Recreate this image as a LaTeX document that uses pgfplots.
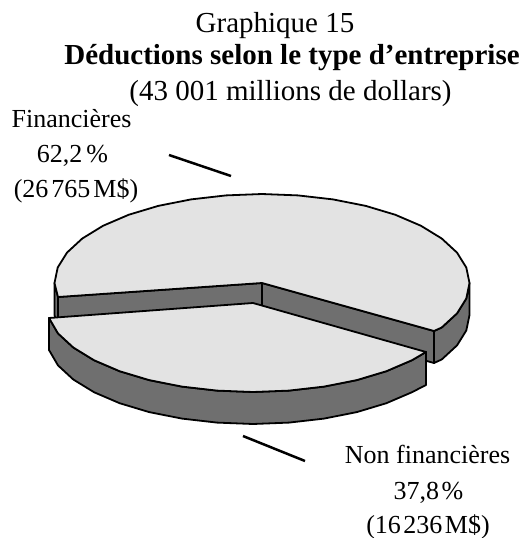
\documentclass[border=0pt]{standalone}
\usepackage{pgfplots}
\pgfplotsset{compat=1.18}
\usepackage{fontspec}
\setmainfont{Liberation Serif}
\definecolor{pietop}{HTML}{E3E3E3}
\definecolor{pieside}{HTML}{6F6F6F}
\tikzset{
    ttl/.style={anchor=base, font=\fontsize{29}{32}\selectfont, inner sep=0pt},
    txt/.style={anchor=base, font=\fontsize{26}{30}\selectfont, inner sep=0pt},
}
\begin{document}
\begin{tikzpicture}
\useasboundingbox (0,0) rectangle (524pt,538pt);
\begin{axis}[
    scale only axis,
    width=524pt,
    height=538pt,
    xmin=0, xmax=524,
    ymin=0, ymax=538,
    y dir=reverse,
    hide axis,
    clip=false,
    every axis plot/.append style={draw=black, line width=1.8pt, line join=round, mark=none},
]
% Financieres 62,2 %: side wall, right then left of the rim
\addplot[fill=pieside] coordinates {(469.5,283) (466.3,298.5) (457,313.4) (441.7,327.5) (434,331) (434,363) (441.7,359.5) (457,345.4) (466.3,330.5) (469.5,315)} --cycle;
\addplot[fill=pieside] coordinates {(54.5,283) (58,297) (58,329) (54.5,315)} --cycle;
% cut faces
\addplot[fill=pieside] coordinates {(58,297) (262,283) (262,315) (58,329)} --cycle;
\addplot[fill=pieside] coordinates {(262,283) (434,331) (434,363) (262,315)} --cycle;
% top face
\addplot[fill=pietop] coordinates {(262,283) (434,331) (441.7,327.5) (457,313.4) (466.3,298.5) (469.5,283) (466.3,267.5) (457,252.6) (441.7,238.5) (421,225.8) (395.4,214.8) (365.8,205.9) (333,199.4) (298,195.4) (262,194) (226,195.4) (191,199.4) (158.2,205.9) (128.6,214.8) (103,225.8) (82.3,238.5) (67,252.6) (57.7,267.5) (54.5,283) (58,297)} --cycle;
% Non financieres 37,8 %: side wall
\addplot[fill=pieside] coordinates {(426,352) (412,360.2) (386.4,371.2) (356.8,380.1) (324,386.6) (289,390.6) (253,392) (217,390.6) (182,386.6) (149.2,380.1) (119.6,371.2) (94,360.2) (73.3,347.5) (58,333.4) (49,318) (49,350) (58,365.4) (73.3,379.5) (94,392.2) (119.6,403.2) (149.2,412.1) (182,418.6) (217,422.6) (253,424) (289,422.6) (324,418.6) (356.8,412.1) (386.4,403.2) (412,392.2) (426,385)} --cycle;
% top face
\addplot[fill=pietop] coordinates {(253,303) (426,352) (412,360.2) (386.4,371.2) (356.8,380.1) (324,386.6) (289,390.6) (253,392) (217,390.6) (182,386.6) (149.2,380.1) (119.6,371.2) (94,360.2) (73.3,347.5) (58,333.4) (49,318)} --cycle;
% leader lines
\addplot[line width=2.5pt] coordinates {(169,155) (231,176)};
\addplot[line width=2.5pt] coordinates {(243,436) (305,461)};
% text
\node[ttl] at (axis cs:275,32) {Graphique 15};
\node[ttl] at (axis cs:292,64) {\bfseries Déductions selon le type d’entreprise};
\node[ttl] at (axis cs:290.5,100) {(43 001 millions de dollars)};
\node[txt] at (axis cs:71.5,127) {Financières};
\node[txt] at (axis cs:72.5,162) {62,2\hspace{4pt}\%};
\node[txt] at (axis cs:76,197) {(26\hspace{3pt}765\hspace{3pt}M\$)};
\node[txt] at (axis cs:427.5,463) {Non financières};
\node[txt] at (axis cs:428.5,499) {37,8\hspace{2.5pt}\%};
\node[txt] at (axis cs:428,533) {(16\hspace{2.5pt}236\hspace{2.5pt}M\$)};
\end{axis}
\end{tikzpicture}
\end{document}
